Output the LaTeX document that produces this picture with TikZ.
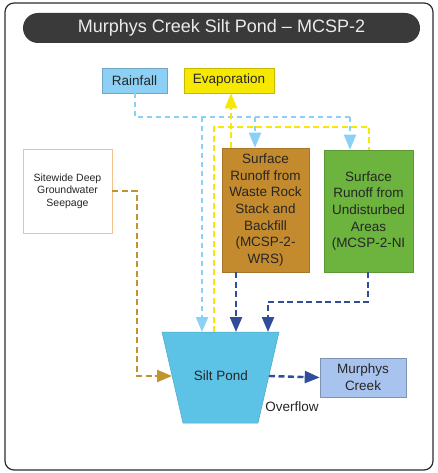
\documentclass[tikz,border=0pt]{standalone}
\usepackage{fontspec}
\setmainfont{Liberation Sans}
\usetikzlibrary{positioning,arrows.meta,calc}
\definecolor{framegray}{RGB}{45,45,45}
\definecolor{titlegray}{RGB}{58,58,58}
\definecolor{rainblue}{RGB}{140,208,245}
\definecolor{evapyellow}{RGB}{246,232,0}
\definecolor{wrsbrown}{RGB}{196,138,46}
\definecolor{nigreen}{RGB}{108,180,62}
\definecolor{seeporange}{RGB}{244,192,140}
\definecolor{pondblue}{RGB}{92,195,230}
\definecolor{creekblue}{RGB}{168,196,238}
\definecolor{flowblue}{RGB}{47,77,154}
\definecolor{seepochre}{RGB}{192,149,46}
\newcommand{\pondhull}{(162,332)--(279,332)--(258,423)--(183,423)--cycle}

\tikzset{
  box/.style={draw, line width=0.6pt, align=center, inner sep=0pt, text=black!85,
    font=\fontsize{13.5}{16.7}\selectfont},
  flow/.style={line width=2.4pt, dash pattern=on 6pt off 3.5pt},
  rainflow/.style={rainblue, line width=2pt, dash pattern=on 5pt off 4pt},
  tip/.style={-{Triangle[length=15pt,width=12pt]}}
}

\begin{document}
\begin{tikzpicture}[x=1pt,y=-1pt]
    \useasboundingbox (0,0) rectangle (437,473);
    % frame and title bar
    \draw[framegray,line width=1.2pt,rounded corners=9pt] (5,3) rectangle (433,470);
    \node[fill=titlegray,rounded corners=15pt,minimum width=397pt,minimum height=30pt,
      text=white!92!black,font=\fontsize{18}{20}\selectfont] (title) at (221.5,28)
      {Murphys Creek Silt Pond – MCSP-2};
    % boxes
    \node[box,fill=rainblue,draw=rainblue!80!black,minimum width=65pt,minimum height=25pt]
      (rain) at (134.5,80.5) {Rainfall};
    \node[box,fill=evapyellow,draw=evapyellow!80!black,minimum width=90pt,minimum height=25pt]
      (evap) at (229,80.5) {Evaporation};
    \node[box,fill=wrsbrown,draw=wrsbrown!85!black,minimum width=87pt,minimum height=124pt]
      (wrs) at (265.5,210) {Surface\\Runoff from\\Waste Rock\\Stack and\\Backfill\\(MCSP-2-\\WRS)};
    \node[box,fill=nigreen,draw=nigreen!85!black,minimum width=89pt,minimum height=122pt]
      (ni) at (368.5,211) {Surface\\Runoff from\\Undisturbed\\Areas\\(MCSP-2-NI};
    \node[box,fill=white,draw=seeporange,minimum width=89pt,minimum height=84pt,
      font=\fontsize{10.5}{12.5}\selectfont] (seep) at (67.5,191)
      {Sitewide Deep\\Groundwater\\Seepage};
    \node[box,fill=creekblue,draw=creekblue!75!black,minimum width=86pt,minimum height=39pt]
      (creek) at (363,377.5) {Murphys\\Creek};
    % silt pond
    \fill[pondblue,draw=pondblue!85!black,line width=0.5pt] \pondhull;
    \node[font=\fontsize{13.5}{16}\selectfont,text=black!85] (pond) at (221,376) {Silt Pond};
    \node[font=\fontsize{13.5}{16}\selectfont,text=black!85] (over) at (292,407) {Overflow};
    \coordinate (pondL) at (172,376);  \coordinate (pondR) at (269,376);
    \coordinate (pondA) at (202,332);  \coordinate (pondB) at (214,332);
    \coordinate (pondC) at (236,332);  \coordinate (pondD) at (268,332);
    % rainfall
    \draw[rainflow] (rain.south) |- (135,117) -| (350,117);
    \draw[rainflow,tip] (350,117) -- (ni.north -| 350,0);
    \draw[rainflow,tip] (255,117) -- (wrs.north -| 255,0);
    \draw[rainflow,tip] (202,117) -- (pondA);
    % evaporation
    \draw[flow,evapyellow] (pondB) -- (214,127) -| (ni.north -| 369,0);
    \draw[flow,evapyellow,tip] (wrs.north -| 231,0) -- (evap.south -| 231,0);
    % runoff into pond
    \draw[flow,flowblue,tip] (wrs.south -| pondC) -- (pondC);
    \draw[flow,flowblue,tip] (ni.south -| 368,0) |- (268,302) -- (pondD);
    % seepage
    \draw[flow,seepochre,tip] (seep.east) -| (137,376) -- (pondL);
    % overflow
    \draw[flow,flowblue,tip] (pondR) -- (creek.west);
\end{tikzpicture}
\end{document}
